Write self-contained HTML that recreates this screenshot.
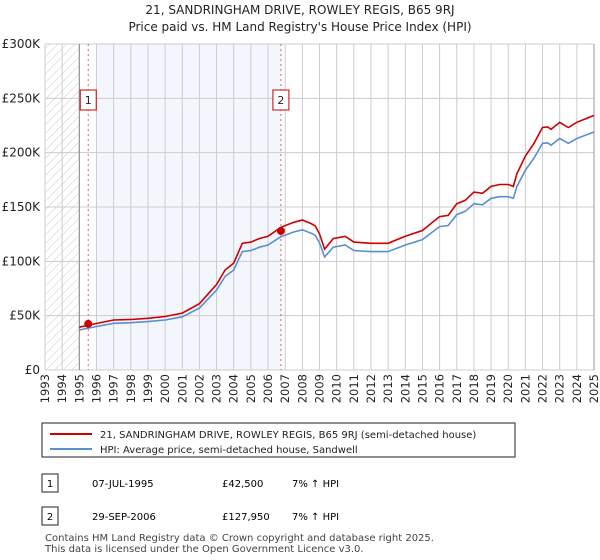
<!DOCTYPE html>
<html><head><meta charset="utf-8"><style>
body{margin:0;background:#fff;font-family:"DejaVu Sans","Liberation Sans",sans-serif;}
#wrap{position:relative;width:600px;height:560px;overflow:hidden}
svg text{font-family:"DejaVu Sans","Liberation Sans",sans-serif}
</style></head><body><div id="wrap">
<svg id="c" width="600" height="560">
<defs><pattern id="hatch" width="6" height="6" patternUnits="userSpaceOnUse" patternTransform="rotate(45)"><line x1="0" y1="0" x2="0" y2="6" stroke="#ccc" stroke-width="1"/></pattern></defs>
<text x="300" y="14" text-anchor="middle" font-size="12" fill="#222">21, SANDRINGHAM DRIVE, ROWLEY REGIS, B65 9RJ</text>
<text x="300" y="31" text-anchor="middle" font-size="12" fill="#222">Price paid vs. HM Land Registry's House Price Index (HPI)</text>
<g id="plot"></g>
<rect x="42" y="423" width="473" height="34" fill="#fff" stroke="#222"/>
<line x1="50" y1="434" x2="92" y2="434" stroke="#cc0000" stroke-width="2"/>
<text x="100" y="438" font-size="10" fill="#222">21, SANDRINGHAM DRIVE, ROWLEY REGIS, B65 9RJ (semi-detached house)</text>
<line x1="50" y1="449" x2="92" y2="449" stroke="#5b8fd0" stroke-width="2"/>
<text x="100" y="453" font-size="10" fill="#222">HPI: Average price, semi-detached house, Sandwell</text>
<rect x="42" y="474" width="16" height="18" fill="#fff" stroke="#222"/>
<text x="50" y="487" text-anchor="middle" font-size="10">1</text>
<text x="92" y="487" font-size="10">07-JUL-1995</text>
<text x="222" y="487" font-size="10">£42,500</text>
<text x="292" y="487" font-size="10">7% ↑ HPI</text>
<rect x="42" y="507" width="16" height="18" fill="#fff" stroke="#222"/>
<text x="50" y="520" text-anchor="middle" font-size="10">2</text>
<text x="92" y="520" font-size="10">29-SEP-2006</text>
<text x="222" y="520" font-size="10">£127,950</text>
<text x="292" y="520" font-size="10">7% ↑ HPI</text>
<text x="45" y="541" font-size="10" fill="#444">Contains HM Land Registry data © Crown copyright and database right 2025.</text>
<text x="45" y="552" font-size="10" fill="#444">This data is licensed under the Open Government Licence v3.0.</text>
</svg></div>
<script>
const hpiYears=[1995.0,1996,1997,1998,1999,2000,2001,2002,2003,2003.5,2004,2004.5,2005,2005.5,2006,2006.75,2007.5,2008,2008.5,2008.75,2009.0,2009.3,2009.8,2010.5,2011,2012,2013,2014,2015,2015.5,2016,2016.5,2017,2017.5,2018,2018.5,2019,2019.5,2020,2020.3,2020.5,2021,2021.5,2022,2022.3,2022.5,2023,2023.5,2024,2024.5,2025];
const hpiValues=[36.8,40,43,43.5,44.5,46,49,57,73.6,86,92,109,110,113,115,122.7,127,129,126,124,117,104,113,115,110,109,109,115,120,126,132,133,143,146,153,152,158,159.5,159.5,158,168.7,184,195,208.6,209,207,213,208.6,213,216,219];
const priceValues=[39.4,42.8,46,46.5,47.6,49.2,52.4,61,78.8,92,98.4,116.6,117.7,121,123,131.3,135.9,138,134.8,132.7,125.2,111.3,120.9,123,117.7,116.6,116.6,123,128.4,134.8,141.2,142.3,153,156.2,163.7,162.6,169,170.7,170.7,169,180.5,196.9,208.6,223.2,223.6,221.5,227.9,223.2,227.9,231.1,234.3];
const saleYears=[1995.52,2006.75];
const salePrices=[42.5,127.95];
const yTicks=[0,50,100,150,200,250,300];
const yTickLabels=["£0","£50K","£100K","£150K","£200K","£250K","£300K"];
const xStart=1993,xEnd=2025;
const L=45,R=594,T=44,B=370;
const sx=v=>L+(v-xStart)/(xEnd-xStart)*(R-L);
const sy=v=>B-v/300*(B-T);
const g=document.getElementById('plot');
const NS='http://www.w3.org/2000/svg';
function mk(t,a){const e=document.createElementNS(NS,t);for(const k in a)e.setAttribute(k,a[k]);g.appendChild(e);return e;}
let e;
e=mk('rect',{x:sx(1996),y:T,width:sx(saleYears[1])-sx(1996),height:B-T,fill:'#f3f6fd'});


e=mk('rect',{x:L,y:T,width:sx(1995)-L,height:B-T,fill:'url(#hatch)'});


for(let y=xStart;y<=xEnd;y++){
 e=mk('line',{x1:sx(y),x2:sx(y),y1:T,y2:B,stroke:'#ccc','stroke-width':1});
 
 
 e=mk('text',{x:0,y:0,'font-size':11.5,'text-anchor':'end',transform:`translate(${sx(y)+4},${B+4}) rotate(-90)`,fill:'#222'});
 e.textContent=String(y);
 
 
}
yTicks.forEach((v,i)=>{
 e=mk('line',{x1:L,x2:R,y1:sy(v),y2:sy(v),stroke:'#ccc','stroke-width':1});
 
 
 e=mk('text',{x:40,y:sy(v)+4,'font-size':12,'text-anchor':'end',fill:'#222'});
 e.textContent=yTickLabels[i];
 
 
});
e=mk('line',{x1:sx(1995),x2:sx(1995),y1:T,y2:B,stroke:'#888'});


e=mk('line',{x1:R,x2:R,y1:T,y2:B,stroke:'#999'});


saleYears.forEach((yr)=>{
 e=mk('line',{x1:sx(yr),x2:sx(yr),y1:T,y2:B,stroke:'#e06060','stroke-dasharray':'2,3'});
 
 
});
const pts=(vals)=>hpiYears.map((y,i)=>sx(y).toFixed(1)+','+sy(vals[i]).toFixed(1)).join(' ');
e=mk('polyline',{points:pts(hpiValues),fill:'none',stroke:'#5b8fd0','stroke-width':1.6});


e=mk('polyline',{points:pts(priceValues),fill:'none',stroke:'#cc0000','stroke-width':1.6});


saleYears.forEach((yr,i)=>{
 e=mk('circle',{cx:sx(yr),cy:sy(salePrices[i]),r:4,fill:'#cc0000'});
 
 
 const bx=sx(yr)-8;
 e=mk('rect',{x:bx,y:90,width:16,height:20,fill:'#fff',stroke:'#cc0000'});
 
 
 e=mk('text',{x:sx(yr),y:104,'font-size':11,'text-anchor':'middle',fill:'#222'});
 e.textContent=String(i+1);
 
 
});
</script></body></html>
